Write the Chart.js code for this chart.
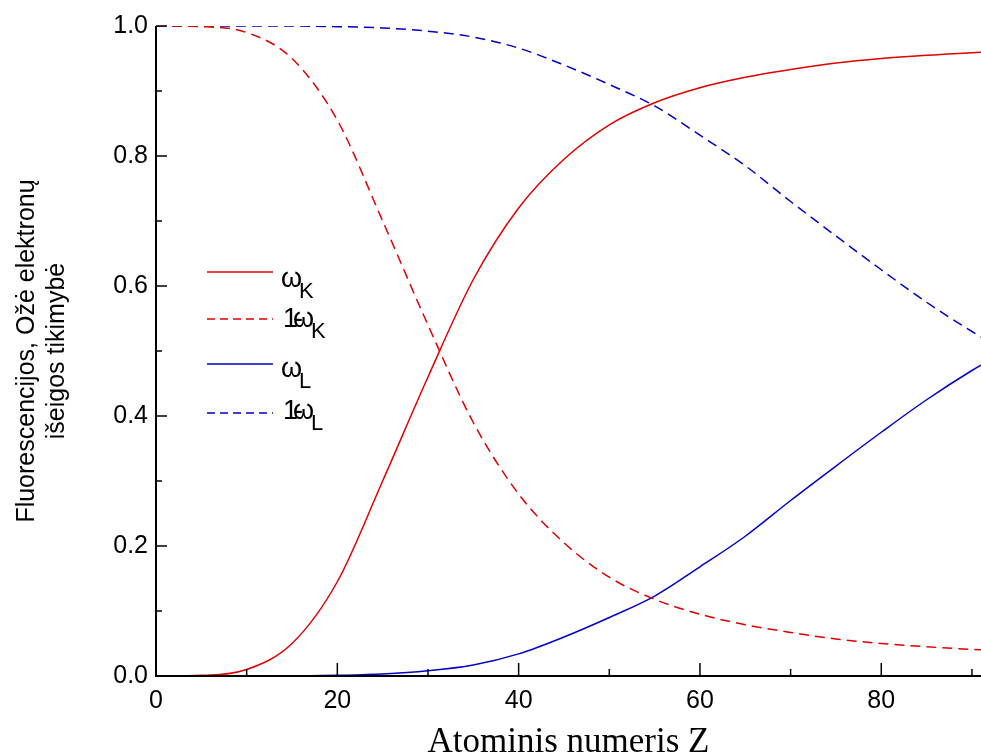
<!DOCTYPE html>
<html>
<head>
<meta charset="utf-8">
<script src="https://cdn.jsdelivr.net/npm/chart.js@4/dist/chart.umd.min.js"></script>
<style>
  html, body { margin: 0; padding: 0; background: #fff; }
  #wrap { width: 981px; height: 755px; }
</style>
</head>
<body>
<div id="wrap"><canvas id="fluoChart"></canvas></div>
<script>
// atomic number Z
const zValues = [0, 5, 10, 15, 20, 25, 30, 35, 40, 45, 50, 55, 60, 65, 70, 75, 80, 85, 90, 95];
// fluorescence yield K shell
const omegaK = [0, 0.001, 0.01, 0.05, 0.145, 0.3, 0.46, 0.61, 0.72, 0.795, 0.848, 0.882, 0.905, 0.921, 0.933, 0.943, 0.95, 0.955, 0.959, 0.961];
// Auger yield K shell
const augerK = [1, 0.999, 0.99, 0.95, 0.855, 0.7, 0.54, 0.39, 0.28, 0.205, 0.152, 0.118, 0.095, 0.079, 0.067, 0.057, 0.05, 0.045, 0.041, 0.039];
// fluorescence yield L shell
const omegaL = [0, 0, 0, 0, 0.001, 0.003, 0.008, 0.017, 0.034, 0.06, 0.09, 0.123, 0.168, 0.215, 0.27, 0.323, 0.375, 0.425, 0.47, 0.51];
// Auger yield L shell
const augerL = [1, 1, 1, 1, 0.999, 0.997, 0.992, 0.983, 0.966, 0.94, 0.91, 0.877, 0.832, 0.785, 0.73, 0.677, 0.625, 0.575, 0.53, 0.49];

const xLabelTicks = [0, 20, 40, 60, 80];
const yLabelTicks = [0, 0.2, 0.4, 0.6, 0.8, 1.0];

const RED = '#e00000';
const BLUE = '#0000c8';

function pts(ys) {
  return zValues.map((z, i) => ({ x: z, y: ys[i] }));
}

// axis lines, inward ticks, titles and legend
const decorPlugin = {
  id: 'decor',
  afterDraw(chart) {
    const c = chart.ctx;
    const a = chart.chartArea;
    const xs = chart.scales.x;
    const ys = chart.scales.y;
    c.save();
    c.strokeStyle = '#000';
    c.lineWidth = 2;
    c.beginPath();
    c.moveTo(a.left, a.top);
    c.lineTo(a.left, a.bottom);
    c.lineTo(a.right, a.bottom);
    c.stroke();

    c.lineWidth = 1.5;
    for (let v = 0; v <= 90; v += 10) {
      const px = xs.getPixelForValue(v);
      const len = xLabelTicks.includes(v) ? 13 : 7;
      c.beginPath();
      c.moveTo(px, a.bottom);
      c.lineTo(px, a.bottom - len);
      c.stroke();
    }
    for (let k = 0; k <= 10; k++) {
      const py = ys.getPixelForValue(k / 10);
      const len = k % 2 === 0 ? 11 : 6;
      c.beginPath();
      c.moveTo(a.left, py);
      c.lineTo(a.left + len, py);
      c.stroke();
    }

    // x title
    c.fillStyle = '#000';
    c.font = '35px "Liberation Serif", "Times New Roman", serif';
    c.textAlign = 'center';
    c.textBaseline = 'alphabetic';
    c.fillText('Atominis numeris Z', (a.left + a.right) / 2, 752);

    // y title
    c.save();
    c.translate(0, (a.top + a.bottom) / 2);
    c.rotate(-Math.PI / 2);
    c.font = '25px "Liberation Sans", Arial, sans-serif';
    c.textAlign = 'center';
    c.fillText('Fluorescencijos, Ožė elektronų', 0, 34);
    c.fillText('išeigos tikimybė', 0, 64);
    c.restore();

    // legend
    const rows = [
      { color: RED, dash: [], ly: 272, by: 287, pre: false, sub: 'K' },
      { color: RED, dash: [8, 5], ly: 319, by: 327, pre: true, sub: 'K' },
      { color: BLUE, dash: [], ly: 364, by: 377, pre: false, sub: 'L' },
      { color: BLUE, dash: [8, 5], ly: 413, by: 419, pre: true, sub: 'L' }
    ];
    rows.forEach(r => {
      c.strokeStyle = r.color;
      c.lineWidth = 1.5;
      c.setLineDash(r.dash);
      c.beginPath();
      c.moveTo(207, r.ly);
      c.lineTo(273, r.ly);
      c.stroke();
      c.setLineDash([]);
      c.fillStyle = '#000';
      c.textAlign = 'left';
      c.font = '27px "Liberation Sans", Arial, sans-serif';
      let x = 281;
      if (r.pre) {
        c.fillText('1', 283, r.by);
        c.fillText('-', 294, r.by);
        x = 293;
      }
      c.fillText('ω', x, r.by);
      c.font = '22px "Liberation Sans", Arial, sans-serif';
      c.fillText(r.sub, x + 18, r.by + 11);
    });
    c.restore();
  }
};

new Chart(document.getElementById('fluoChart'), {
  type: 'line',
  data: {
    datasets: [
      { label: 'ωK', data: pts(omegaK), borderColor: RED },
      { label: '1-ωK', data: pts(augerK), borderColor: RED, borderDash: [10, 6] },
      { label: 'ωL', data: pts(omegaL), borderColor: BLUE },
      { label: '1-ωL', data: pts(augerL), borderColor: BLUE, borderDash: [10, 6] }
    ]
  },
  options: {
    responsive: true,
    maintainAspectRatio: false,
    animation: false,
    layout: { padding: { top: 26, right: 0, bottom: 0, left: 0 } },
    elements: {
      point: { radius: 0 },
      line: { borderWidth: 1.5, cubicInterpolationMode: 'monotone', fill: false }
    },
    plugins: {
      legend: { display: false },
      tooltip: { enabled: false }
    },
    scales: {
      x: {
        type: 'linear',
        min: 0,
        max: 91,
        afterFit(s) { s.height = 79; s.paddingRight = 0; s.paddingLeft = 0; },
        grid: { display: false, drawTicks: false },
        border: { display: false },
        ticks: {
          stepSize: 10,
          autoSkip: false,
          maxRotation: 0,
          padding: 10,
          color: '#000',
          font: { family: '"Liberation Sans", Arial, sans-serif', size: 25 },
          callback: v => (xLabelTicks.includes(v) ? String(v) : '')
        }
      },
      y: {
        min: 0,
        max: 1,
        afterFit(s) { s.width = 156; },
        grid: { display: false, drawTicks: false },
        border: { display: false },
        ticks: {
          stepSize: 0.2,
          autoSkip: false,
          padding: 8,
          color: '#000',
          font: { family: '"Liberation Sans", Arial, sans-serif', size: 25 },
          callback: v => (yLabelTicks.some(t => Math.abs(t - v) < 1e-6) ? v.toFixed(1) : '')
        }
      }
    }
  },
  plugins: [decorPlugin]
});
</script>
</body>
</html>
